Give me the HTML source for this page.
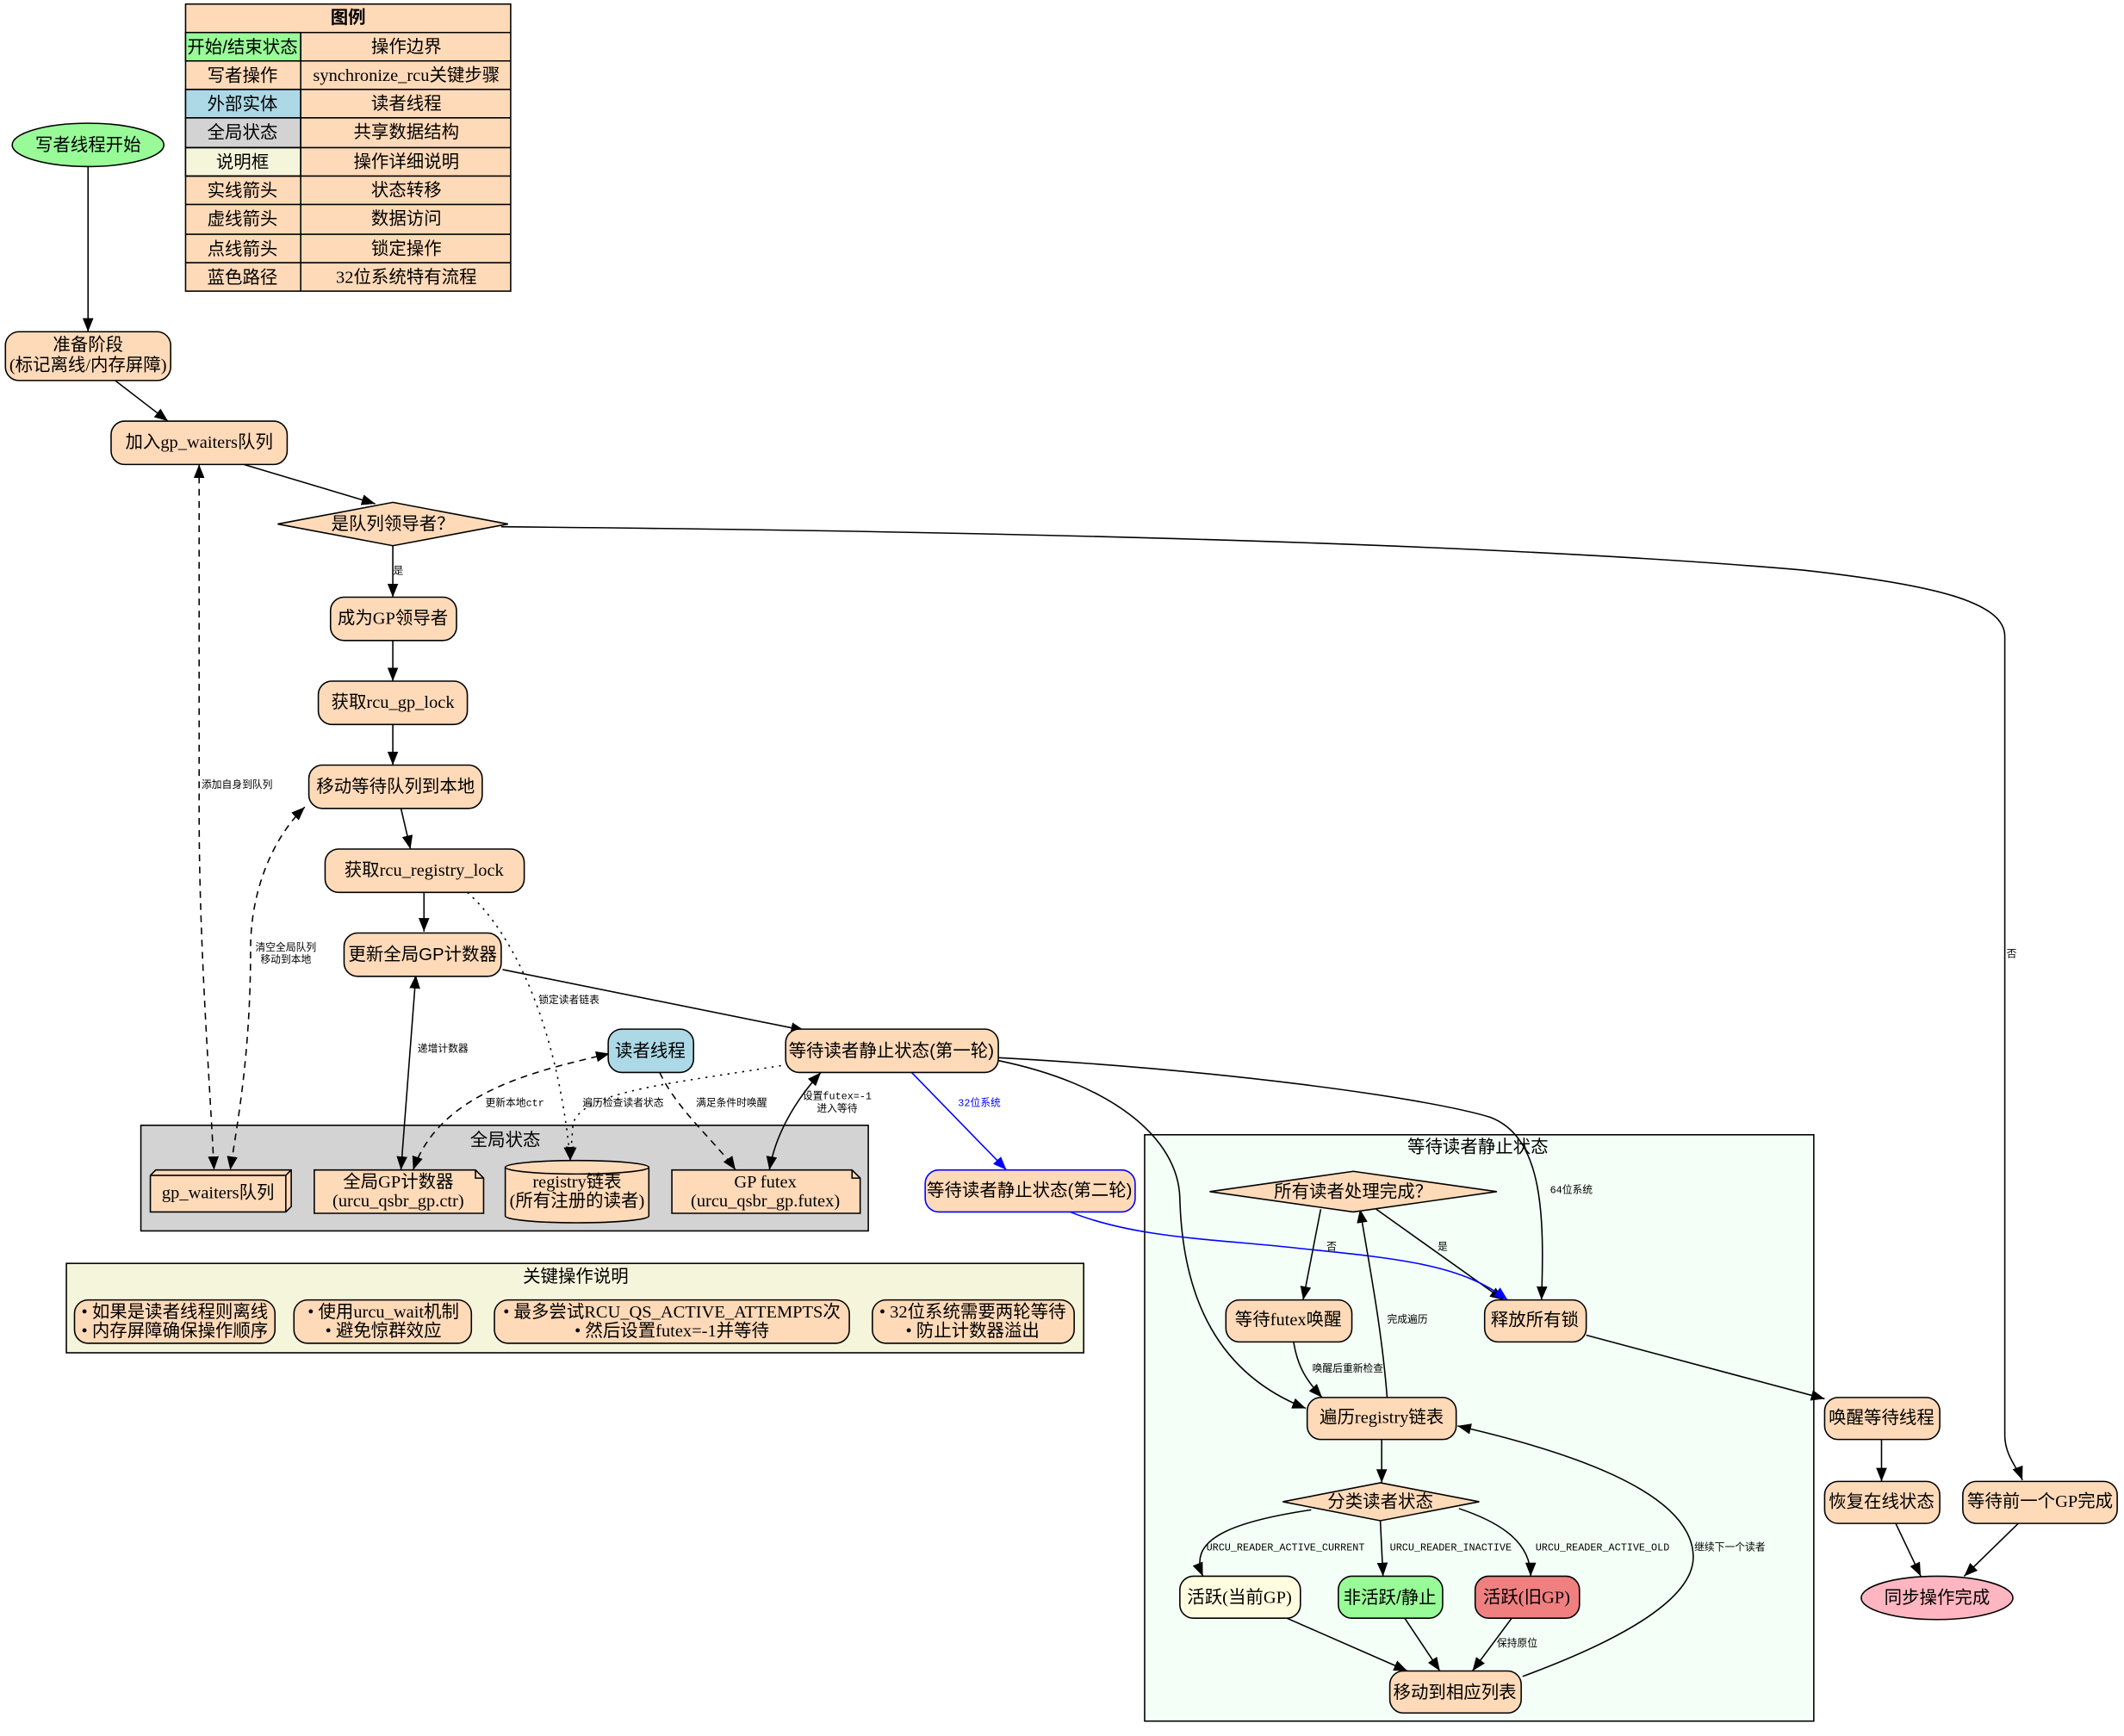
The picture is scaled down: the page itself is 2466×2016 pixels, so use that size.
<!DOCTYPE html>
<html><head><meta charset="utf-8"><style>
html,body{margin:0;padding:0;background:#fff;}
svg{display:block;}
text{font-family:"Liberation Serif","Noto Sans CJK SC",serif;font-size:13px;fill:#000;}
.s,.s text{font-family:"Liberation Sans","Noto Sans CJK SC",sans-serif;}
.e text{font-family:"Liberation Mono","Noto Sans CJK SC",monospace;font-size:7.5px;}
.n{fill:#FFDAB9;stroke:#000;stroke-width:1;}
.l{fill:none;stroke:#000;stroke-width:1;}
</style></head><body>
<svg width="2466" height="2016" viewBox="0 0 1568 1282" preserveAspectRatio="none" xmlns="http://www.w3.org/2000/svg">
<defs>
<marker id="a" markerWidth="10" markerHeight="8" refX="10" refY="4" orient="auto-start-reverse" markerUnits="userSpaceOnUse"><path d="M0,0L10,4L0,8z" fill="#000"/></marker>
<marker id="b" markerWidth="10" markerHeight="8" refX="10" refY="4" orient="auto" markerUnits="userSpaceOnUse"><path d="M0,0L10,4L0,8z" fill="#00f"/></marker>
</defs>
<g text-anchor="middle" dominant-baseline="central">
<!-- Legend -->
<rect x="137" y="3" width="240" height="212" fill="#FFDAB9" stroke="#000"/>
<text x="257" y="13" class="s" font-weight="bold">图例</text>
<rect x="137" y="24" width="85" height="21" fill="#98FB98" stroke="#000"/>
<rect x="137" y="66" width="85" height="21" fill="#ADD8E6" stroke="#000"/>
<rect x="137" y="87" width="85" height="22" fill="#D3D3D3" stroke="#000"/>
<rect x="137" y="109" width="85" height="21" fill="#F5F5DC" stroke="#000"/>
<g class="l"><line x1="137" y1="24" x2="377" y2="24"/><line x1="137" y1="45" x2="377" y2="45"/><line x1="137" y1="66" x2="377" y2="66"/><line x1="137" y1="87" x2="377" y2="87"/><line x1="137" y1="109" x2="377" y2="109"/><line x1="137" y1="130" x2="377" y2="130"/><line x1="137" y1="151" x2="377" y2="151"/><line x1="137" y1="173" x2="377" y2="173"/><line x1="137" y1="194" x2="377" y2="194"/><line x1="222" y1="24" x2="222" y2="215"/></g>
<g class="s"><text x="179" y="35">开始/结束状态</text><text x="179" y="56">写者操作</text><text x="179" y="77">外部实体</text><text x="179" y="98">全局状态</text><text x="179" y="120">说明框</text><text x="179" y="141">实线箭头</text><text x="179" y="162">虚线箭头</text><text x="179" y="184">点线箭头</text><text x="179" y="205">蓝色路径</text></g>
<text x="300" y="35">操作边界</text><text x="300" y="56">synchronize_rcu关键步骤</text><text x="300" y="77">读者线程</text><text x="300" y="98">共享数据结构</text><text x="300" y="120">操作详细说明</text><text x="300" y="141">状态转移</text><text x="300" y="162">数据访问</text><text x="300" y="184">锁定操作</text><text x="300" y="205">32位系统特有流程</text>

<!-- Clusters -->
<rect x="104" y="831" width="537" height="78" fill="#D3D3D3" stroke="#000"/>
<text x="373" y="842" class="s">全局状态</text>
<rect x="49" y="933" width="751" height="66" fill="#F5F5DC" stroke="#000"/>
<text x="425" y="943">关键操作说明</text>
<rect x="845" y="838" width="494" height="433" fill="#F3FFF7" stroke="#000"/>
<text x="1091" y="847" class="s">等待读者静止状态</text>

<!-- Edges -->
<g class="l" marker-end="url(#a)">
<path d="M65,123L65,245"/>
<path d="M85,281L124,311"/>
<path d="M180,343L277,372"/>
<path d="M370,389C700,392 1087,400 1331,421C1430,432 1480,445 1480,470L1480,1060C1480,1075 1490,1085 1493,1093"/>
<path d="M290,403L290,441"/>
<path d="M290,473L290,503"/>
<path d="M290,535L290,565"/>
<path d="M296,597L303,627"/>
<path d="M313,659L313,688"/>
<path d="M345,659C380,690 412,760 421,857" stroke-dasharray="1.5,4"/>
<path d="M371,716L594,761"/>
<path d="M147,343L147,600C147,700 155,800 158,864" stroke-dasharray="5,4" marker-start="url(#a)"/>
<path d="M225,596C200,620 185,660 185,700C185,780 175,830 170,864" stroke-dasharray="5,4" marker-start="url(#a)"/>
<path d="M307,720L296,864" marker-start="url(#a)"/>
<path d="M450,778C400,790 325,805 305,864" stroke-dasharray="5,4" marker-start="url(#a)"/>
<path d="M487,792C500,820 530,845 543,864" stroke-dasharray="5,4"/>
<path d="M582,786C500,800 430,805 423,830L421,857" stroke-dasharray="1.5,4"/>
<path d="M606,792C585,815 572,840 568,864" marker-start="url(#a)"/>
<path d="M736,781C900,790 1050,810 1100,825C1140,840 1140,900 1138,960"/>
<path d="M736,783C820,800 870,840 871,885C873,960 900,1015 964,1040"/>
<path d="M975,893L962,960"/>
<path d="M1016,893L1110,960"/>
<path d="M955,991C958,1010 965,1020 976,1032"/>
<path d="M1024,1032C1020,980 1010,930 1004,893"/>
<path d="M1171,986L1347,1033"/>
<path d="M1389,1062L1389,1094"/>
<path d="M1399,1124L1418,1164"/>
<path d="M1491,1124L1450,1164"/>
<path d="M1020,1062L1020,1095"/>
<path d="M968,1115C900,1125 878,1140 888,1164"/>
<path d="M1019,1123L1021,1164"/>
<path d="M1077,1114C1110,1125 1130,1140 1130,1164"/>
<path d="M950,1195L1039,1234"/>
<path d="M1037,1195L1063,1234"/>
<path d="M1116,1195L1087,1234"/>
<path d="M1124,1238C1200,1210 1250,1180 1250,1150C1250,1100 1150,1070 1076,1053"/>
</g>
<g fill="none" stroke="#00f" marker-end="url(#b)">
<path d="M673,792L743,864"/>
<path d="M790,895C840,915 900,915 960,922C1040,930 1080,935 1113,960"/>
</g>

<!-- Edge labels -->
<g class="e">
<text x="294" y="422">是</text>
<text x="1485" y="705">否</text>
<text x="175" y="580">添加自身到队列</text>
<text x="211" y="700">清空全局队列</text><text x="211" y="709">移动到本地</text>
<text x="420" y="739">锁定读者链表</text>
<text x="327" y="775">递增计数器</text>
<text x="380" y="815">更新本地ctr</text>
<text x="460" y="815">遍历检查读者状态</text>
<text x="540" y="815">满足条件时唤醒</text>
<text x="618" y="810">设置futex=-1</text><text x="618" y="819">进入等待</text>
<text x="723" y="815" style="fill:#00f">32位系统</text>
<text x="1160" y="879">64位系统</text>
<text x="983" y="921">否</text>
<text x="1065" y="921">是</text>
<text x="995" y="1011">唤醒后重新检查</text>
<text x="1039" y="975">完成遍历</text>
<text x="949" y="1143">URCU_READER_ACTIVE_CURRENT</text>
<text x="1071" y="1143">URCU_READER_INACTIVE</text>
<text x="1183" y="1143">URCU_READER_ACTIVE_OLD</text>
<text x="1277" y="1143">继续下一个读者</text>
<text x="1120" y="1214">保持原位</text>
</g>

<!-- Nodes -->
<ellipse cx="65" cy="107" rx="56" ry="16" fill="#98FB98" stroke="#000"/><text x="65" y="107" class="s">写者线程开始</text>
<rect class="n" x="4" y="245" width="122" height="36" rx="10"/><text x="65" y="255">准备阶段</text><text x="65" y="270">(标记离线/内存屏障)</text>
<rect class="n" x="82" y="311" width="130" height="32" rx="10"/><text x="147" y="327">加入gp_waiters队列</text>
<path class="n" d="M290,371L375,387L290,403L205,387Z"/><text x="290" y="387" class="s">是队列领导者？</text>
<rect class="n" x="244" y="441" width="93" height="32" rx="10"/><text x="290" y="457">成为GP领导者</text>
<rect class="n" x="235" y="503" width="110" height="32" rx="10"/><text x="290" y="519">获取rcu_gp_lock</text>
<rect class="n" x="228" y="565" width="128" height="32" rx="10"/><text x="292" y="581" class="s">移动等待队列到本地</text>
<rect class="n" x="240" y="627" width="147" height="32" rx="10"/><text x="313" y="643">获取rcu_registry_lock</text>
<rect class="n" x="254" y="689" width="116" height="32" rx="10"/><text x="312" y="705" class="s">更新全局GP计数器</text>
<rect x="449" y="760" width="63" height="32" rx="10" fill="#ADD8E6" stroke="#000"/><text x="480" y="776" class="s">读者线程</text>
<rect class="n" x="580" y="760" width="157" height="32" rx="10"/><text x="658" y="776" class="s">等待读者静止状态(第一轮)</text>
<rect x="683" y="864" width="155" height="31" rx="10" fill="#FFDAB9" stroke="#00f"/><text x="760" y="879" class="s">等待读者静止状态(第二轮)</text>
<!-- box3d -->
<path class="n" d="M111,868L115,864L215,864L215,891L211,895L111,895Z"/><path class="l" d="M111,868L211,868L211,895M211,868L215,864"/><text x="161" y="881">gp_waiters队列</text>
<path class="n" d="M232,864L351,864L357,870L357,896L232,896Z"/><path class="l" d="M351,864L351,870L357,870"/><text x="294" y="873">全局GP计数器</text><text x="294" y="887">(urcu_qsbr_gp.ctr)</text>
<path class="n" d="M373,862A53,5 0 0 1 479,862L479,898A53,5 0 0 1 373,898Z"/><path class="l" d="M373,862A53,5 0 0 0 479,862"/><text x="426" y="873">registry链表</text><text x="426" y="887">(所有注册的读者)</text>
<path class="n" d="M496,864L629,864L635,870L635,896L496,896Z"/><path class="l" d="M629,864L629,870L635,870"/><text x="565" y="873">GP futex</text><text x="565" y="887">(urcu_qsbr_gp.futex)</text>
<!-- notes -->
<rect class="n" x="55" y="960" width="148" height="32" rx="10"/><text x="129" y="969">• 如果是读者线程则离线</text><text x="129" y="983">• 内存屏障确保操作顺序</text>
<rect class="n" x="217" y="960" width="131" height="32" rx="10"/><text x="283" y="969">• 使用urcu_wait机制</text><text x="283" y="983">• 避免惊群效应</text>
<rect class="n" x="365" y="960" width="262" height="32" rx="10"/><text x="496" y="969">• 最多尝试RCU_QS_ACTIVE_ATTEMPTS次</text><text x="496" y="983">• 然后设置futex=-1并等待</text>
<rect class="n" x="644" y="960" width="149" height="32" rx="10"/><text x="718" y="969">• 32位系统需要两轮等待</text><text x="718" y="983">• 防止计数器溢出</text>
<!-- inner cluster -->
<path class="n" d="M999,865L1105,880L999,895L893,880Z"/><text x="999" y="880" class="s">所有读者处理完成？</text>
<rect class="n" x="905" y="960" width="93" height="31" rx="10"/><text x="951" y="975">等待futex唤醒</text>
<rect class="n" x="1096" y="960" width="75" height="31" rx="10"/><text x="1133" y="975" class="s">释放所有锁</text>
<rect class="n" x="965" y="1032" width="110" height="31" rx="10"/><text x="1020" y="1047">遍历registry链表</text>
<path class="n" d="M1019,1095L1092,1109L1019,1123L947,1109Z"/><text x="1019" y="1109" class="s">分类读者状态</text>
<rect x="871" y="1164" width="89" height="31" rx="10" fill="#FFFDE0" stroke="#000"/><text x="915" y="1180">活跃(当前GP)</text>
<rect x="988" y="1164" width="77" height="31" rx="10" fill="#98FB98" stroke="#000"/><text x="1026" y="1180" class="s">非活跃/静止</text>
<rect x="1089" y="1164" width="77" height="31" rx="10" fill="#F08080" stroke="#000"/><text x="1127" y="1180">活跃(旧GP)</text>
<rect class="n" x="1026" y="1234" width="97" height="31" rx="10"/><text x="1074" y="1250" class="s">移动到相应列表</text>
<!-- right -->
<rect class="n" x="1347" y="1032" width="85" height="31" rx="10"/><text x="1389" y="1047" class="s">唤醒等待线程</text>
<rect class="n" x="1347" y="1094" width="85" height="31" rx="10"/><text x="1389" y="1109" class="s">恢复在线状态</text>
<rect class="n" x="1449" y="1094" width="114" height="31" rx="10"/><text x="1506" y="1109">等待前一个GP完成</text>
<ellipse cx="1430" cy="1180" rx="56" ry="16" fill="#FFB6C1" stroke="#000"/><text x="1430" y="1180" class="s">同步操作完成</text>
</g>
</svg>
</body></html>
